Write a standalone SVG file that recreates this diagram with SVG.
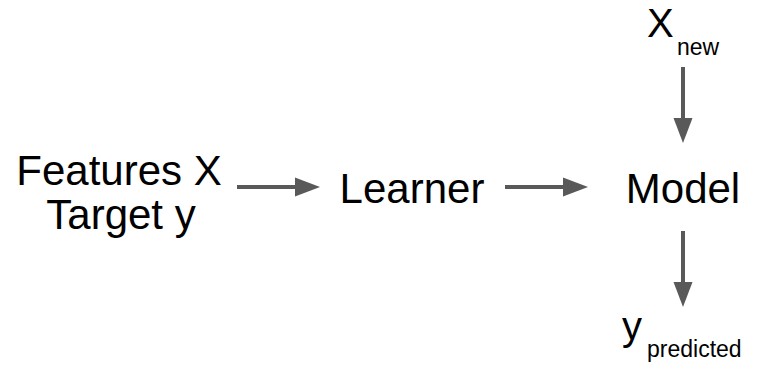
<svg xmlns="http://www.w3.org/2000/svg" width="776" height="365" viewBox="0 0 776 365">
  <defs>
    <style>
      .t { font-family: "Liberation Sans", Arial, sans-serif; fill: #000; }
      .big { font-size: 42px; }
      .sub { font-size: 23px; }
      .c { stroke: #595959; stroke-width: 4; fill: none; }
      .h { fill: #595959; }
    </style>
  </defs>
  <rect width="776" height="365" fill="#fff"/>
  <g id="features">
    <text class="t big" x="119" y="185" text-anchor="middle">Features X</text>
    <text class="t big" x="121" y="229" text-anchor="middle">Target y</text>
  </g>
  <g id="learner">
    <text class="t big" x="412" y="203" text-anchor="middle">Learner</text>
  </g>
  <g id="model">
    <text class="t big" x="683" y="203" text-anchor="middle">Model</text>
  </g>
  <g id="xnew">
    <text class="t" x="647" y="37" font-size="40">X</text>
    <text class="t sub" x="677" y="55">new</text>
  </g>
  <g id="ypred">
    <text class="t" x="622" y="340" font-size="40">y</text>
    <text class="t sub" x="647" y="357">predicted</text>
  </g>
  <g id="connectors">
    <line class="c" x1="237" y1="187" x2="297" y2="187"/>
    <polygon class="h" points="295,177.5 320,187 295,196.5"/>
    <line class="c" x1="505" y1="187" x2="565" y2="187"/>
    <polygon class="h" points="563,177.5 588,187 563,196.5"/>
    <line class="c" x1="683" y1="67" x2="683" y2="120"/>
    <polygon class="h" points="673.5,118 692.5,118 683,143"/>
    <line class="c" x1="683" y1="231" x2="683" y2="284"/>
    <polygon class="h" points="673.5,282 692.5,282 683,307"/>
  </g>
</svg>
